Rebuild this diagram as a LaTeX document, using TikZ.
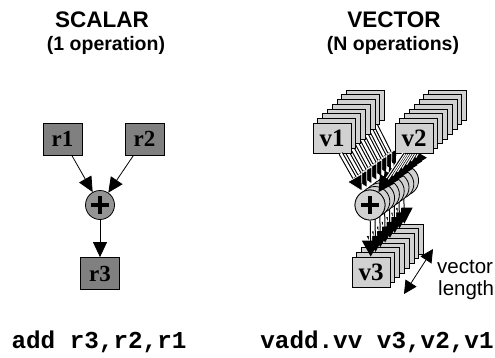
\documentclass[tikz,border=0pt]{standalone}
\usepackage{fontspec}
\setmainfont{Liberation Serif}
\newfontfamily\hvfont{Liberation Sans}
\newfontfamily\courfont{Liberation Mono}
\usetikzlibrary{arrows.meta}
\definecolor{scalgray}{gray}{0.5}
\definecolor{scalcirc}{gray}{0.58}
\definecolor{vecgray}{gray}{0.82}
\definecolor{veccirc}{gray}{0.82}
\begin{document}
\begin{tikzpicture}[x=1pt,y=-1pt,
  title/.style={anchor=base, inner sep=0pt, font=\hvfont\bfseries\fontsize{22.5}{24}\selectfont},
  subtitle/.style={anchor=base, inner sep=0pt, font=\hvfont\bfseries\fontsize{19.5}{22}\selectfont},
  code/.style={anchor=base, inner sep=0pt, font=\courfont\bfseries\fontsize{24.3}{26}\selectfont},
  sbox/.style={draw=black, line width=0.8pt, fill=scalgray, minimum width=39pt, minimum height=32pt, inner sep=0pt, font=\bfseries\fontsize{23}{23}\selectfont},
  vbox/.style={draw=black, line width=0.8pt, fill=vecgray, minimum width=38pt, minimum height=30pt, inner sep=0pt, font=\bfseries\fontsize{25}{25}\selectfont},
  scirc/.style={circle, draw=black, line width=0.8pt, fill=scalcirc, minimum size=29pt, inner sep=0pt},
  vcirc/.style={circle, draw=black, line width=0.8pt, fill=veccirc, minimum size=30pt, inner sep=0pt},
  plusline/.style={line width=3.2pt},
  sarr/.style={line width=0.8pt, -{Triangle[length=15pt,width=14pt]}},
  varr/.style={line width=1pt, -{Triangle[length=16pt,width=17pt]},
    preaction={draw=white, line width=3.4pt, -, shorten >=15pt}},
  stripearr/.style={line width=4.6pt, -{Triangle[length=16pt,width=17pt,fill=black,color=white,line width=0.7pt]},
    postaction={draw=white, line width=2.4pt, -, shorten >=16.5pt}},
  lenarr/.style={line width=0.8pt, {Triangle[length=13pt,width=13pt]}-{Triangle[length=13pt,width=13pt]}},
  lab/.style={anchor=base west, inner sep=0pt, font=\hvfont\fontsize{20.5}{22}\selectfont}
]
\useasboundingbox (0,0) rectangle (495,357);

% titles
\node[title] (tscal) at (102,27) {SCALAR};
\node[subtitle] (sscal) at (106,50) {(1 operation)};
\node[title] (tvec) at (394,27) {VECTOR};
\node[subtitle] (svec) at (393,50) {(N operations)};

% scalar
\node[sbox] (r1) at (62.5,139) {r1};
\node[sbox] (r2) at (144.5,139) {r2};
\node[scirc] (p) at (100,205) {};
\draw[plusline] ([xshift=-9pt]p.center) -- ([xshift=9pt]p.center);
\draw[plusline] ([yshift=-9pt]p.center) -- ([yshift=9pt]p.center);
\node[sbox] (r3) at (100,273.5) {r3};
\draw[sarr] (r1) -- (p);
\draw[sarr] (r2) -- (p);
\draw[sarr] (p) -- (r3);

% vector
\foreach \k in {7,6,5,4,3,2,1,0}{
  \pgfmathsetmacro\bx{4.8*\k}
  \pgfmathsetmacro\by{-4.7*\k}
  \pgfmathsetmacro\cy{-3.5*\k}
  \node[vbox] (v3-\k) at (371+\bx,272+\by) {\ifnum\k=0 v3\fi};
  \node[vbox] (v1-\k) at (332+\bx,138+\by) {\ifnum\k=0 v1\fi};
  \node[vbox] (v2-\k) at (414+\bx,138+\by) {\ifnum\k=0 v2\fi};
  \node[vcirc] (c-\k) at (370+\bx,205+\cy) {};
  \draw[stripearr] (v1-\k) -- (c-\k);
  \draw[varr] (v2-\k) -- (c-\k);
  \draw[varr] (c-\k) -- (v3-\k);
}
\node[vcirc] (c0b) at (c-0) {};
\draw[plusline] ([xshift=-9pt]c0b.center) -- ([xshift=9pt]c0b.center);
\draw[plusline] ([yshift=-9pt]c0b.center) -- ([yshift=9pt]c0b.center);

% vector length
\coordinate (vlA) at (404,294);
\coordinate (vlB) at (433,249);
\draw[lenarr] (vlA) -- (vlB);
\node[lab] (lab1) at (437,273) {vector};
\node[lab] (lab2) at (438,295) {length};

% code
\node[code] (cscal) at (99,348) {add r3,r2,r1};
\node[code] (cvec) at (377,348) {vadd.vv v3,v2,v1};
\end{tikzpicture}
\end{document}
